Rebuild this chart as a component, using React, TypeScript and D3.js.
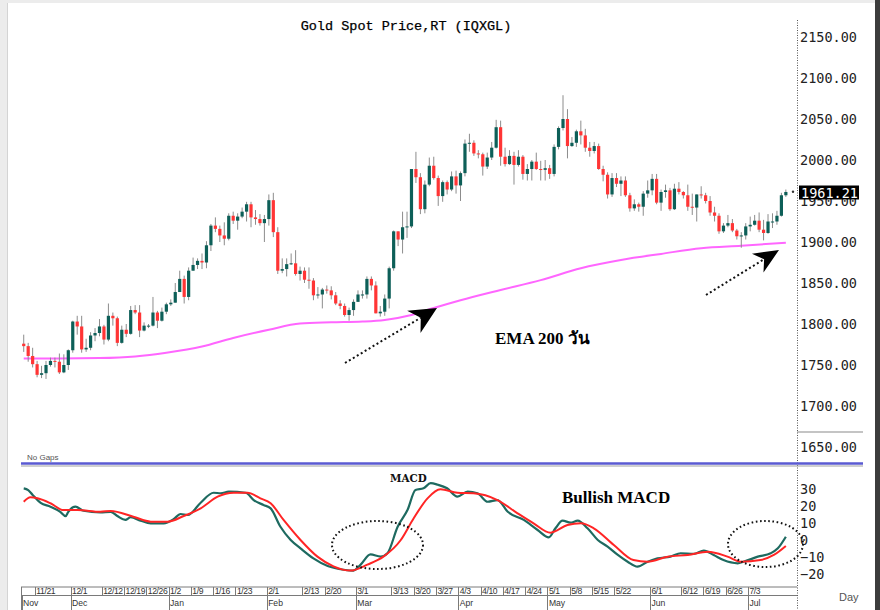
import React from 'react';
import * as d3 from 'd3';

const W = 880;
const H = 610;

// Daily candles, 16 Nov 2022 .. 13 Jul 2023 (index 0 = 11/16)
const opens = [1776,1773,1761,1751,1738,1740,1750,1755,1754,1741,
1750,1768,1803,1797,1769,1771,1786,1789,1797,1781,
1810,1807,1777,1793,1788,1817,1814,1792,1798,1798,
1814,1804,1815,1824,1826,1839,1855,1833,1865,1872,
1877,1875,1896,1920,1916,1908,1904,1932,1926,1931,
1937,1946,1930,1928,1923,1928,1951,1912,1865,1867,
1873,1874,1861,1865,1854,1853,1835,1836,1842,1841,
1835,1825,1822,1811,1817,1827,1836,1836,1855,1847,
1813,1815,1831,1868,1913,1903,1918,1919,1989,1979,
1940,1970,1993,1978,1956,1973,1964,1980,1969,1984,
2020,2021,2008,2007,1992,2003,2015,2040,2004,1995,
2005,1994,2004,1983,1989,1998,1989,1988,1990,1983,
2016,2039,2050,2017,2021,2035,2030,2015,2011,2017,
1989,1982,1958,1978,1971,1975,1957,1941,1946,1943,
1959,1963,1977,1948,1961,1963,1940,1965,1961,1957,
1943,1942,1958,1957,1950,1936,1932,1913,1920,1923,
1914,1907,1908,1919,1921,1926,1915,1911,1925,1925,
1932,1957];
const highs = [1787,1777,1771,1755,1749,1755,1759,1759,1764,1763,
1769,1804,1810,1810,1782,1790,1795,1806,1799,1825,
1814,1809,1798,1800,1822,1823,1823,1802,1800,1833,
1816,1820,1826,1830,1850,1865,1859,1869,1881,1880,
1886,1901,1922,1930,1920,1924,1935,1937,1935,1942,
1949,1949,1939,1934,1933,1958,1960,1918,1880,1880,
1886,1890,1870,1869,1869,1856,1845,1844,1847,1846,
1839,1829,1825,1820,1830,1841,1841,1858,1858,1852,
1822,1836,1870,1914,1913,1937,1937,1989,2010,1984,
1975,2003,2004,1981,1975,1975,1986,1987,1986,2025,
2032,2024,2012,2009,2009,2022,2049,2048,2015,2012,
2010,2012,2006,1995,2000,2009,1999,2000,1994,2019,
2041,2079,2062,2028,2037,2048,2038,2022,2022,2020,
1993,1985,1984,1984,1980,1980,1960,1952,1948,1962,
1975,1983,1983,1964,1970,1966,1971,1973,1962,1970,
1959,1958,1968,1960,1956,1943,1935,1923,1933,1928,
1916,1912,1923,1931,1933,1936,1927,1934,1935,1938,
1960,1964];
const lows = [1766,1754,1747,1735,1734,1733,1748,1747,1739,1740,
1744,1765,1787,1765,1766,1768,1779,1785,1775,1779,
1798,1773,1776,1784,1787,1812,1784,1791,1795,1797,
1795,1803,1812,1822,1826,1839,1825,1829,1865,1867,
1867,1868,1889,1912,1900,1896,1902,1922,1915,1929,
1925,1918,1921,1920,1900,1920,1906,1861,1862,1858,
1872,1859,1853,1850,1843,1829,1831,1819,1837,1830,
1823,1818,1809,1804,1810,1827,1831,1831,1841,1813,
1809,1810,1819,1865,1895,1886,1905,1917,1972,1934,
1935,1968,1976,1944,1949,1958,1962,1959,1950,1980,
2010,2005,2002,1981,1989,2000,2014,1993,1992,1994,
1970,1992,1976,1975,1975,1988,1975,1975,1977,1980,
2013,2036,2002,2016,2016,2019,2010,2004,2008,1988,
1974,1953,1955,1967,1956,1955,1937,1938,1937,1932,
1954,1957,1946,1938,1954,1938,1939,1958,1953,1938,
1933,1925,1953,1947,1932,1925,1910,1911,1918,1912,
1903,1893,1903,1913,1920,1912,1902,1910,1917,1921,
1931,1955];
const closes = [1773,1761,1751,1738,1740,1750,1755,1754,1741,1750,
1768,1803,1797,1769,1771,1786,1789,1797,1781,1810,
1807,1777,1793,1788,1817,1814,1792,1798,1798,1814,
1804,1815,1824,1826,1839,1855,1833,1865,1872,1877,
1875,1896,1920,1916,1908,1904,1932,1926,1931,1937,
1946,1930,1928,1923,1928,1951,1912,1865,1867,1873,
1874,1861,1865,1854,1853,1835,1836,1842,1841,1835,
1825,1822,1811,1817,1827,1836,1836,1855,1847,1813,
1815,1831,1868,1913,1903,1918,1919,1989,1979,1940,
1970,1993,1978,1956,1973,1964,1980,1969,1984,2020,
2021,2008,2007,1992,2003,2015,2040,2004,1995,2005,
1994,2004,1983,1989,1998,1989,1988,1990,1983,2016,
2039,2050,2017,2021,2035,2030,2015,2011,2017,1989,
1982,1958,1978,1971,1975,1957,1941,1946,1943,1959,
1963,1977,1948,1961,1963,1940,1965,1961,1957,1943,
1942,1958,1957,1950,1936,1932,1913,1920,1923,1914,
1907,1908,1919,1921,1926,1915,1911,1925,1925,1932,
1957,1961];

// EMA 200 (bar index, value)
const emaIdx = [0, 8, 17, 25, 32, 40, 47, 55, 62, 69, 76, 81, 87, 92, 98, 107, 116, 125, 134, 143, 152, 161, 171];
const emaVals = [1758, 1758, 1758.5, 1760.5, 1765, 1772.5, 1783, 1793, 1800.5, 1802, 1803, 1805, 1811, 1819.5, 1829, 1841.5, 1853.5, 1868, 1878, 1885.5, 1892.5, 1895.5, 1899];

// MACD line (teal) samples
const macdIdx = [0, 1, 2, 3.8, 6, 8.2, 9.4, 10, 11.6, 13.4, 17.2, 19.5, 21, 22.8, 24, 26.2, 28.5, 31.4, 33.6, 35.2, 36.8, 39.7, 42.6, 44.2, 46, 49.8, 51.6, 53.8, 55.4, 57.6, 59.9, 62.1, 65, 68.2, 71.8, 74, 75.6, 77.8, 80.1, 81.6, 83.9, 86.1, 87.9, 89.7, 91.3, 92.9, 95, 97.3, 99.6, 101.8, 104.1, 106.3, 108.6, 112.2, 115.3, 117.8, 119.3, 120.9, 122.7, 124.3, 126.5, 128.8, 131, 133.3, 135.5, 137.7, 140, 142.2, 145.1, 147.4, 150.3, 152.6, 154.8, 157, 160.2, 161.5, 164.7, 167.6, 169.2, 171];
const macdVals = [30.4, 29.4, 26.5, 21.8, 19.6, 16.6, 14.1, 16.6, 19.6, 17.2, 16.3, 16.6, 14.1, 11.8, 13.4, 11.4, 9.8, 9.8, 12.2, 15.3, 14.7, 21.9, 27.8, 27.5, 28.4, 27.8, 23.5, 20.6, 18.6, 7.8, 0, -4.9, -10.8, -15.3, -17.5, -18, -14.5, -8.5, -9.8, -7.8, 7.8, 17.6, 29.4, 30.4, 33.4, 32.5, 30.4, 25.5, 28.4, 27.5, 22.5, 23.5, 16.6, 11.8, 5.9, 1.6, 6.9, 11.4, 10.2, 11.4, 6.9, 0, -3.9, -8.8, -12.8, -15.7, -12.8, -10.8, -9.8, -7.8, -8.2, -6.3, -8.8, -11.8, -13.7, -12.8, -9.8, -7.8, -4.9, 1.9];

// Signal line (red) samples
const sigIdx = [0, 1.5, 3.1, 6, 8.9, 12.1, 17.2, 19.5, 24.6, 28.5, 32.3, 35.9, 39.7, 43.5, 47.1, 50.2, 53.1, 55.4, 58.3, 62.1, 65.9, 69.5, 73.3, 77.1, 80.7, 84.6, 87.5, 90.6, 93.5, 97.3, 100.9, 106.3, 110.8, 114.4, 118.2, 122, 125, 127.9, 132.4, 136.8, 140, 144.5, 149, 153.5, 157.9, 160.9, 165.3, 168.3, 171];
const sigVals = [22.5, 25.1, 24.5, 21.6, 17.6, 17.6, 16.6, 17.1, 13.7, 10.8, 10.8, 14.1, 18.6, 25.5, 27.8, 27.8, 24.5, 21.6, 11.8, 0, -9.8, -15.5, -18, -14.5, -9.8, 0, 12.8, 24.5, 29.8, 27.8, 27.5, 23.5, 15.7, 9.8, 4.3, 8.8, 9.8, 6.9, -2.9, -11.8, -12.8, -9.8, -8.8, -6.9, -9.8, -12.8, -11.8, -8.8, -3.5];

const priceTicks = [1650, 1700, 1750, 1800, 1850, 1900, 1950, 2000, 2050, 2100, 2150];
const macdTicks = [30, 20, 10, 0, -10, -20];

const dateLabels = ['11/21', '12/1', '12/12', '12/19', '12/26', '1/2', '1/9', '1/16', '1/23', '2/1', '2/13', '2/20', '3/1', '3/13', '3/20', '3/27', '4/3', '4/10', '4/17', '4/24', '5/1', '5/8', '5/15', '5/22', '6/1', '6/12', '6/19', '6/26', '7/3'];
const dateIdx = [3, 11, 18, 23, 28, 33, 38, 43, 48, 55, 63, 68, 75, 83, 88, 93, 98, 103, 108, 113, 118, 123, 128, 133, 141, 148, 153, 158, 163];
const monthLabels = ['Nov', 'Dec', 'Jan', 'Feb', 'Mar', 'Apr', 'May', 'Jun', 'Jul'];
const monthIdx = [0, 11, 33, 55, 75, 98, 118, 141, 163];

const lastPrice = '1961.21';

const GREEN = '#0d5f58';
const RED = '#ff3535';

function arrowParts(sx: number, sy: number, tx: number, ty: number, len: number, hw: number) {
  const dx = tx - sx, dy = ty - sy;
  const L = Math.hypot(dx, dy);
  const ux = dx / L, uy = dy / L;
  const px = -uy, py = ux;
  const bx = tx - ux * len, by = ty - uy * len;
  const nx = tx - ux * len * 0.7, ny = ty - uy * len * 0.7;
  const head = `M${tx},${ty} L${bx + px * hw},${by + py * hw} L${nx},${ny} L${bx - px * hw},${by - py * hw} Z`;
  return { head, lx: nx, ly: ny };
}

export default function App() {
  const x = d3.scaleLinear().domain([0, 174]).range([21.5, 797]);
  const yP = d3.scaleLinear().domain([1650, 2150]).range([447, 37]);
  const yM = d3.scaleLinear().domain([-20, 30]).range([574, 489]);
  const cx = (i: number) => x(i + 0.5);
  const bw = 3.2;

  const emaLine = d3.line<number>()
    .x((_, i) => cx(emaIdx[i]))
    .y((d) => yP(d))
    .curve(d3.curveMonotoneX)(emaVals) as string;
  const macdLine = d3.line<number>()
    .x((_, i) => cx(macdIdx[i]))
    .y((d) => yM(d))
    .curve(d3.curveMonotoneX)(macdVals) as string;
  const sigLine = d3.line<number>()
    .x((_, i) => cx(sigIdx[i]))
    .y((d) => yM(d))
    .curve(d3.curveMonotoneX)(sigVals) as string;

  const a1 = arrowParts(345, 363, 437, 308, 27, 13);
  const a2 = arrowParts(706, 295, 779, 250, 25, 11);

  const axisFont = "'DejaVu Sans Mono', monospace";
  const smallFont = "'Liberation Sans', Arial, sans-serif";

  return (
    <svg width={W} height={H} viewBox={`0 0 ${W} ${H}`}
      style={{ position: 'absolute', left: 0, top: 0, background: '#fff' }}>
      {/* frame */}
      <rect x={0} y={0} width={W} height={H} fill="#fff" />
      <rect x={0} y={0} width={W} height={3} fill="#ececec" />
      <rect x={0} y={0} width={7} height={H} fill="#ececec" />
      <line x1={7.5} y1={3} x2={7.5} y2={H} stroke="#d4d4d4" />
      <rect x={875} y={0} width={5} height={H} fill="#3c3c3c" />

      {/* title */}
      <text x={406} y={30} textAnchor="middle" fontFamily="'Liberation Mono', monospace" fontSize={13.5} fill="#000" stroke="#000" strokeWidth={0.25}>
        Gold Spot Price,RT (IQXGL)
      </text>

      {/* price axis labels (1950 sits partly behind the last-price tag, as in the source) */}
      {priceTicks.map((p) => (
        <text key={p} x={800} y={yP(p) + 5} fontFamily={axisFont} fontSize={13.5} fill="#222">
          {p.toFixed(2)}
        </text>
      ))}
      {/* last price tag */}
      <rect x={799} y={185.5} width={60} height={14} fill="#000" />
      <text x={801} y={197.5} fontFamily={axisFont} fontSize={13.5} fill="#fff">{lastPrice}</text>
      <circle cx={793} cy={yP(1961.21)} r={1.2} fill="#333" />

      {/* axis line */}
      <line x1={797.5} y1={20} x2={797.5} y2={H} stroke="#555" strokeDasharray="1 1.5" />
      <line x1={797} y1={432} x2={863} y2={432} stroke="#8a8a8a" strokeWidth={1.2} />

      {/* EMA 200 */}
      <path d={emaLine} fill="none" stroke="#ff66ff" strokeWidth={2} />

      {/* candles */}
      {closes.map((c, i) => {
        const o = opens[i];
        const up = c >= o;
        const top = yP(Math.max(o, c));
        const bot = yP(Math.min(o, c));
        return (
          <g key={i}>
            <line x1={cx(i)} x2={cx(i)} y1={yP(highs[i])} y2={yP(lows[i])} stroke="#8c8c8c" strokeWidth={1} />
            <rect x={cx(i) - bw / 2} y={top} width={bw} height={Math.max(1, bot - top)} fill={up ? GREEN : RED} />
          </g>
        );
      })}

      {/* arrows */}
      <line x1={345} y1={363} x2={a1.lx} y2={a1.ly} stroke="#111" strokeWidth={2} strokeDasharray="2 2.6" />
      <path d={a1.head} fill="#000" />
      <line x1={706} y1={295} x2={a2.lx} y2={a2.ly} stroke="#111" strokeWidth={2} strokeDasharray="2 2.6" />
      <path d={a2.head} fill="#000" />

      <text x={495} y={344} fontFamily="'Liberation Serif', 'Times New Roman', serif" fontWeight="bold" fontSize={17} fill="#000">
        EMA 200 วัน
      </text>

      {/* panel separator */}
      <text x={27} y={460} fontFamily={smallFont} fontSize={8} fill="#555">No Gaps</text>
      <line x1={21} y1={463.5} x2={863} y2={463.5} stroke="#5a5ad2" strokeWidth={2.4} />
      <line x1={21} y1={466} x2={863} y2={466} stroke="#a0a0a0" strokeWidth={1} />

      {/* MACD axis labels */}
      {macdTicks.map((m) => (
        <text key={m} x={800} y={yM(m) + 5} fontFamily={axisFont} fontSize={13.5} fill="#222">
          {m < 0 ? `\u2212${Math.abs(m)}` : m}
        </text>
      ))}

      {/* MACD lines */}
      <path d={macdLine} fill="none" stroke="#1e6a60" strokeWidth={2.2} strokeLinejoin="round" />
      <path d={sigLine} fill="none" stroke="#ff2525" strokeWidth={2} strokeLinejoin="round" />

      <text x={390} y={482} fontFamily="'DejaVu Serif Condensed', 'DejaVu Serif', serif" fontWeight="bold" fontSize={11.5} fill="#111">MACD</text>
      <text x={562} y={503} fontFamily="'Liberation Serif', 'Times New Roman', serif" fontWeight="bold" fontSize={17} fill="#000">Bullish MACD</text>

      <ellipse cx={377.5} cy={545} rx={45.5} ry={24} fill="none" stroke="#111" strokeWidth={2} strokeDasharray="1.6 2.6" />
      <ellipse cx={765.5} cy={544} rx={37.5} ry={23} fill="none" stroke="#111" strokeWidth={2} strokeDasharray="1.6 2.6" />

      {/* date axis */}
      <line x1={21} y1={587} x2={797} y2={587} stroke="#7a7a7a" />
      <line x1={21} y1={595.5} x2={797} y2={595.5} stroke="#7a7a7a" />
      <line x1={21.5} y1={587} x2={21.5} y2={H} stroke="#7a7a7a" />
      {dateIdx.map((di, k) => (
        <g key={dateLabels[k]}>
          <line x1={Math.round(x(di)) + 0.5} x2={Math.round(x(di)) + 0.5} y1={587} y2={595.5} stroke="#7a7a7a" />
          <text x={x(di) + 1.5} y={594.3} fontFamily={smallFont} fontSize={8.6} fill="#333" letterSpacing={-0.4}>{dateLabels[k]}</text>
        </g>
      ))}
      {monthIdx.map((mi, k) => (
        <g key={monthLabels[k]}>
          <line x1={Math.round(x(mi)) + 0.5} x2={Math.round(x(mi)) + 0.5} y1={595.5} y2={H} stroke="#7a7a7a" />
          <text x={x(mi) + 1.5} y={606} fontFamily={smallFont} fontSize={8.6} fill="#333">{monthLabels[k]}</text>
        </g>
      ))}
      <text x={839} y={601} fontFamily={smallFont} fontSize={11} fill="#555">Day</text>
    </svg>
  );
}
